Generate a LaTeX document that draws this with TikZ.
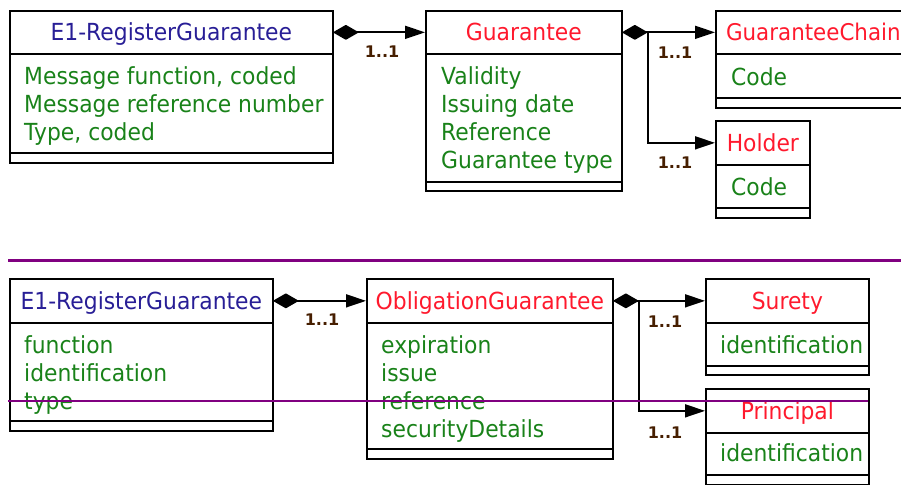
\documentclass[tikz,border=0pt]{standalone}
\usepackage{fontspec}
\setmainfont{DejaVu Sans}[FakeStretch=0.93]
\newfontfamily\lblfont{DejaVu Sans}
\usetikzlibrary{arrows.meta}
\definecolor{ttlblue}{RGB}{40,30,150}
\definecolor{ttlred}{RGB}{255,25,45}
\definecolor{attrgreen}{RGB}{25,130,25}
\definecolor{lblbrown}{RGB}{70,30,0}
\definecolor{sepcol}{RGB}{128,0,128}
\begin{document}
\begin{tikzpicture}[x=1pt,y=-1pt,
  cbox/.style={draw=black, line width=1.7pt, inner sep=0pt, anchor=north west},
  ttl/.style={cbox, minimum height=43pt, text height=17pt, text depth=0pt,
              font=\fontsize{23.5}{28}\selectfont},
  blue/.style={text=ttlblue},
  red/.style={text=ttlred},
  attr/.style={inner sep=0pt, anchor=base west, text=attrgreen,
               font=\fontsize{23.5}{28}\selectfont},
  lbl/.style={inner sep=0pt, text=lblbrown, font=\lblfont\bfseries\fontsize{16}{18}\selectfont},
  conn/.style={line width=1.7pt, draw=black},
  comp/.style={{Diamond[length=26pt,width=15pt,round]}-{Triangle[length=20pt,width=13pt]}},
  nav/.style={-{Triangle[length=20pt,width=13pt]}},
  sepline/.style={draw=sepcol}
]
\useasboundingbox (0,0) rectangle (901,484);
\clip (0,0) rectangle (901,484);

% ---------- top diagram ----------
% E1-RegisterGuarantee
\node[ttl, blue, minimum width=323pt] (At) at (9,10) {E1-RegisterGuarantee};
\node[cbox, minimum width=323pt, minimum height=99pt] (Aa) at (9,53) {};
\node[cbox, minimum width=323pt, minimum height=10pt] (Ab) at (9,152) {};
\node[attr] at (24,84.5) {Message function, coded};
\node[attr] at (24,112.5) {Message reference number};
\node[attr] at (24,140.5) {Type, coded};

% Guarantee
\node[ttl, red, minimum width=196pt] (Gt) at (425,10) {Guarantee};
\node[cbox, minimum width=196pt, minimum height=128pt] (Ga) at (425,53) {};
\node[cbox, minimum width=196pt, minimum height=9pt] (Gb) at (425,181) {};
\node[attr] at (441,84.5) {Validity};
\node[attr] at (441,112.5) {Issuing date};
\node[attr] at (441,140.5) {Reference};
\node[attr] at (441,168.5) {Guarantee type};

% GuaranteeChain
\node[ttl, red, minimum width=195pt, font=\fontsize{23}{28}\selectfont] (GCt) at (715,10) {GuaranteeChain};
\node[cbox, minimum width=195pt, minimum height=44pt] (GCa) at (715,53) {};
\node[cbox, minimum width=195pt, minimum height=10pt] (GCb) at (715,97) {};
\node[attr] at (731,85.5) {Code};

% Holder
\node[ttl, red, minimum width=94pt, minimum height=44pt] (Ht) at (715,120) {Holder};
\node[cbox, minimum width=94pt, minimum height=43pt] (Ha) at (715,164) {};
\node[cbox, minimum width=94pt, minimum height=10pt] (Hb) at (715,207) {};
\node[attr] at (731,195) {Code};

% connectors (top)
\draw[conn, comp] (At.east) -- (Gt.west);
\draw[conn, comp] (Gt.east) -- (GCt.west);
\coordinate (j1) at (648,31.5);
\draw[conn, nav] (j1) |- (Ht.west);
\node[lbl] at (382,52) {1..1};
\node[lbl] at (675,53) {1..1};
\node[lbl] at (675,163) {1..1};

% separator
\draw[sepline, line width=3pt] (8,260) -- (901,260);

% ---------- bottom diagram ----------
% E1-RegisterGuarantee
\node[ttl, blue, minimum width=263pt, minimum height=44pt] (Et) at (9,278) {E1-RegisterGuarantee};
\node[cbox, minimum width=263pt, minimum height=98pt] (Ea) at (9,322) {};
\node[cbox, minimum width=263pt, minimum height=10pt] (Eb) at (9,420) {};
\node[attr] at (24,353) {function};
\node[attr] at (24,381) {identification};
\node[attr] at (24,409) {type};

% ObligationGuarantee
\node[ttl, red, minimum width=246pt, minimum height=44pt] (OGt) at (366,278) {ObligationGuarantee};
\node[cbox, minimum width=246pt, minimum height=126pt] (OGa) at (366,322) {};
\node[cbox, minimum width=246pt, minimum height=10pt] (OGb) at (366,448) {};
\node[attr] at (381,353) {expiration};
\node[attr] at (381,381) {issue};
\node[attr] at (381,409) {reference};
\node[attr] at (381,437) {securityDetails};

% Surety
\node[ttl, red, minimum width=163pt, minimum height=44pt] (St) at (705,278) {Surety};
\node[cbox, minimum width=163pt, minimum height=43pt] (Sa) at (705,322) {};
\node[cbox, minimum width=163pt, minimum height=9pt] (Sb) at (705,365) {};
\node[attr] at (720,353) {identification};

% Principal
\node[ttl, red, minimum width=163pt, minimum height=44pt] (Pt) at (705,388) {Principal};
\node[cbox, minimum width=163pt, minimum height=42pt] (Pa) at (705,432) {};
\node[cbox, minimum width=163pt, minimum height=10pt] (Pb) at (705,474) {};
\node[attr] at (720,461) {identification};

% connectors (bottom)
\draw[conn, comp] (Et.east) -- (OGt.west);
\draw[conn, comp] (OGt.east) -- (St.west);
\coordinate (j2) at (639,300);
\draw[conn, nav] (j2) |- (Pt.west);
\node[lbl] at (322,320) {1..1};
\node[lbl] at (665,322) {1..1};
\node[lbl] at (665,433) {1..1};

% overlaid separator line
\draw[sepline, line width=2.2pt] (8,401) -- (868,401);
\end{tikzpicture}
\end{document}
